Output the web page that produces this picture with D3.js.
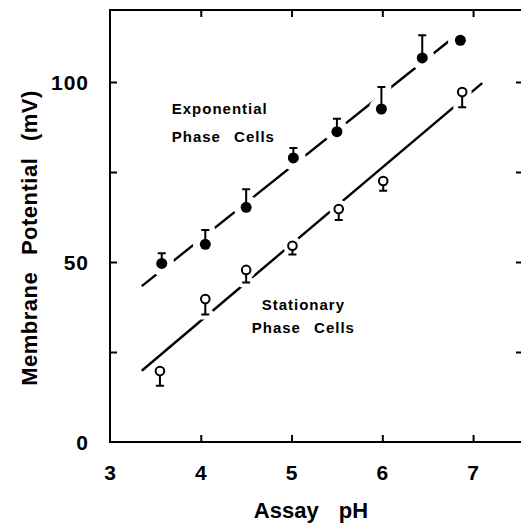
<!DOCTYPE html>
<html>
<head>
<meta charset="utf-8">
<script src="https://cdn.jsdelivr.net/npm/d3@7"></script>
<style>
  body { margin: 0; background: #fff; }
  text { font-family: "Liberation Sans", Arial, sans-serif; font-weight: bold; fill: #000; }
</style>
</head>
<body>
<script>
// Exponential phase cells (filled circles, error bars up)
const phExp  = [3.57, 4.05, 4.50, 5.02, 5.50, 5.99, 6.44, 6.86];
const mvExp  = [49.6, 54.9, 65.2, 78.9, 86.2, 92.5, 106.7, 111.6];
const errExp = [2.8, 4.0, 5.0, 2.8, 3.6, 6.1, 6.3, 0];

// Stationary phase cells (open circles, error bars down)
const phStat  = [3.55, 4.05, 4.50, 5.01, 5.52, 6.01, 6.88];
const mvStat  = [19.7, 39.7, 47.8, 54.5, 64.7, 72.5, 97.2];
const errStat = [4.1, 4.3, 3.5, 2.4, 3.0, 2.7, 4.2];

// fitted lines (end points)
const fitExpPH  = [3.35, 6.86];
const fitExpMV  = [43.3, 113.9];
const fitStatPH = [3.35, 7.10];
const fitStatMV = [19.8, 99.7];

const xTicks = [3, 4, 5, 6, 7];
const yTicks = [0, 25, 50, 75, 100];
const yLabels = [0, 50, 100];

const W = 521, H = 523;
const margin = { top: 10, left: 110, bottom: 81, right: -2 };
const ink = "#000";

const svg = d3.select("body").append("svg")
  .attr("width", W).attr("height", H);

const x = d3.scaleLinear().domain([3, 7.55]).range([margin.left, W - margin.right]);
const y = d3.scaleLinear().domain([0, 120]).range([H - margin.bottom, margin.top]);

// frame
svg.append("rect")
  .attr("x", x(3)).attr("y", y(120))
  .attr("width", x(7.55) - x(3)).attr("height", y(0) - y(120))
  .attr("fill", "none").attr("stroke", ink).attr("stroke-width", 2);

// inward ticks on all four sides
const tickLen = 7;
function ticks(axis, tx) {
  const g = svg.append("g").attr("transform", tx).call(axis);
  g.select(".domain").remove();
  g.selectAll(".tick line").attr("stroke", ink).attr("stroke-width", 2);
  g.selectAll("text").remove();
  return g;
}
ticks(d3.axisBottom(x).tickValues(xTicks.slice(1)).tickSize(-tickLen), `translate(0,${y(0)})`);
ticks(d3.axisTop(x).tickValues(xTicks.slice(1)).tickSize(-tickLen), `translate(0,${y(120)})`);
ticks(d3.axisLeft(y).tickValues(yTicks.slice(1)).tickSize(-tickLen), `translate(${x(3)},0)`);
ticks(d3.axisRight(y).tickValues(yTicks.slice(1)).tickSize(-tickLen), `translate(${x(7.55)},0)`);

// tick labels
svg.append("g").selectAll("text").data(xTicks).join("text")
  .attr("x", d => x(d)).attr("y", y(0) + 38)
  .attr("text-anchor", "middle")
  .style("font-size", "21px")
  .text(d => d);

svg.append("g").selectAll("text").data(yLabels).join("text")
  .attr("x", x(3) - 21).attr("y", d => y(d) + 8)
  .attr("text-anchor", "end")
  .style("font-size", "21px")
  .style("letter-spacing", "1px")
  .text(d => d);

// axis titles
svg.append("text")
  .attr("x", 311).attr("y", 518)
  .attr("text-anchor", "middle")
  .style("font-size", "22px")
  .style("word-spacing", "14px")
  .text("Assay pH");

svg.append("text")
  .attr("transform", "rotate(-90)")
  .attr("x", -238).attr("y", 37)
  .attr("text-anchor", "middle")
  .style("font-size", "22px")
  .style("letter-spacing", "0.5px")
  .style("word-spacing", "10px")
  .text("Membrane Potential (mV)");

// fitted lines
const line = d3.line().x(d => x(d[0])).y(d => y(d[1]));
svg.append("path")
  .datum(d3.zip(fitExpPH, fitExpMV))
  .attr("d", line).attr("stroke", ink).attr("stroke-width", 2.4).attr("fill", "none");
svg.append("path")
  .datum(d3.zip(fitStatPH, fitStatMV))
  .attr("d", line).attr("stroke", ink).attr("stroke-width", 2.4).attr("fill", "none");

const expPts = phExp.map((p, i) => ({ p, v: mvExp[i], e: errExp[i] }));
const statPts = phStat.map((p, i) => ({ p, v: mvStat[i], e: errStat[i] }));
const cap = 4;

// white halos, cut the lines around the markers
function halo(pts, dir, r, w) {
  const g = svg.append("g").attr("stroke", "#fff").attr("fill", "#fff");
  g.selectAll("circle").data(pts).join("circle")
    .attr("cx", d => x(d.p)).attr("cy", d => y(d.v)).attr("r", r);
  g.selectAll("path").data(pts.filter(d => d.e > 0)).join("path")
    .attr("stroke-width", w).attr("stroke-linecap", "round")
    .attr("d", d => {
      const cx = x(d.p), y0 = y(d.v), y1 = y(d.v + dir * d.e);
      return `M${cx},${y0}V${y1}M${cx - cap},${y1}H${cx + cap}`;
    });
}
halo(expPts, 1, 12, 12);
halo(statPts, -1, 9, 10);

// error bars
function bars(pts, dir) {
  svg.append("g").selectAll("path").data(pts.filter(d => d.e > 0)).join("path")
    .attr("stroke", ink).attr("stroke-width", 2).attr("fill", "none")
    .attr("d", d => {
      const cx = x(d.p), y0 = y(d.v), y1 = y(d.v + dir * d.e);
      return `M${cx},${y0}V${y1}M${cx - cap},${y1}H${cx + cap}`;
    });
}
bars(expPts, 1);
bars(statPts, -1);

// markers
svg.append("g").selectAll("circle").data(expPts).join("circle")
  .attr("cx", d => x(d.p)).attr("cy", d => y(d.v)).attr("r", 5.5)
  .attr("fill", ink);
svg.append("g").selectAll("circle").data(statPts).join("circle")
  .attr("cx", d => x(d.p)).attr("cy", d => y(d.v)).attr("r", 4.3)
  .attr("fill", "#fff").attr("stroke", ink).attr("stroke-width", 2);

// annotations
const note = (t, px, mv, anchor) => svg.append("text")
  .attr("x", x(px)).attr("y", y(mv))
  .attr("text-anchor", anchor)
  .style("font-size", "15px")
  .style("letter-spacing", "1px")
  .style("word-spacing", "8px")
  .text(t);
note("Exponential", 3.68, 91.2, "start");
note("Phase Cells", 3.68, 83.2, "start");
note("Stationary", 5.13, 36.6, "middle");
note("Phase Cells", 5.13, 30.2, "middle");
</script>
</body>
</html>
